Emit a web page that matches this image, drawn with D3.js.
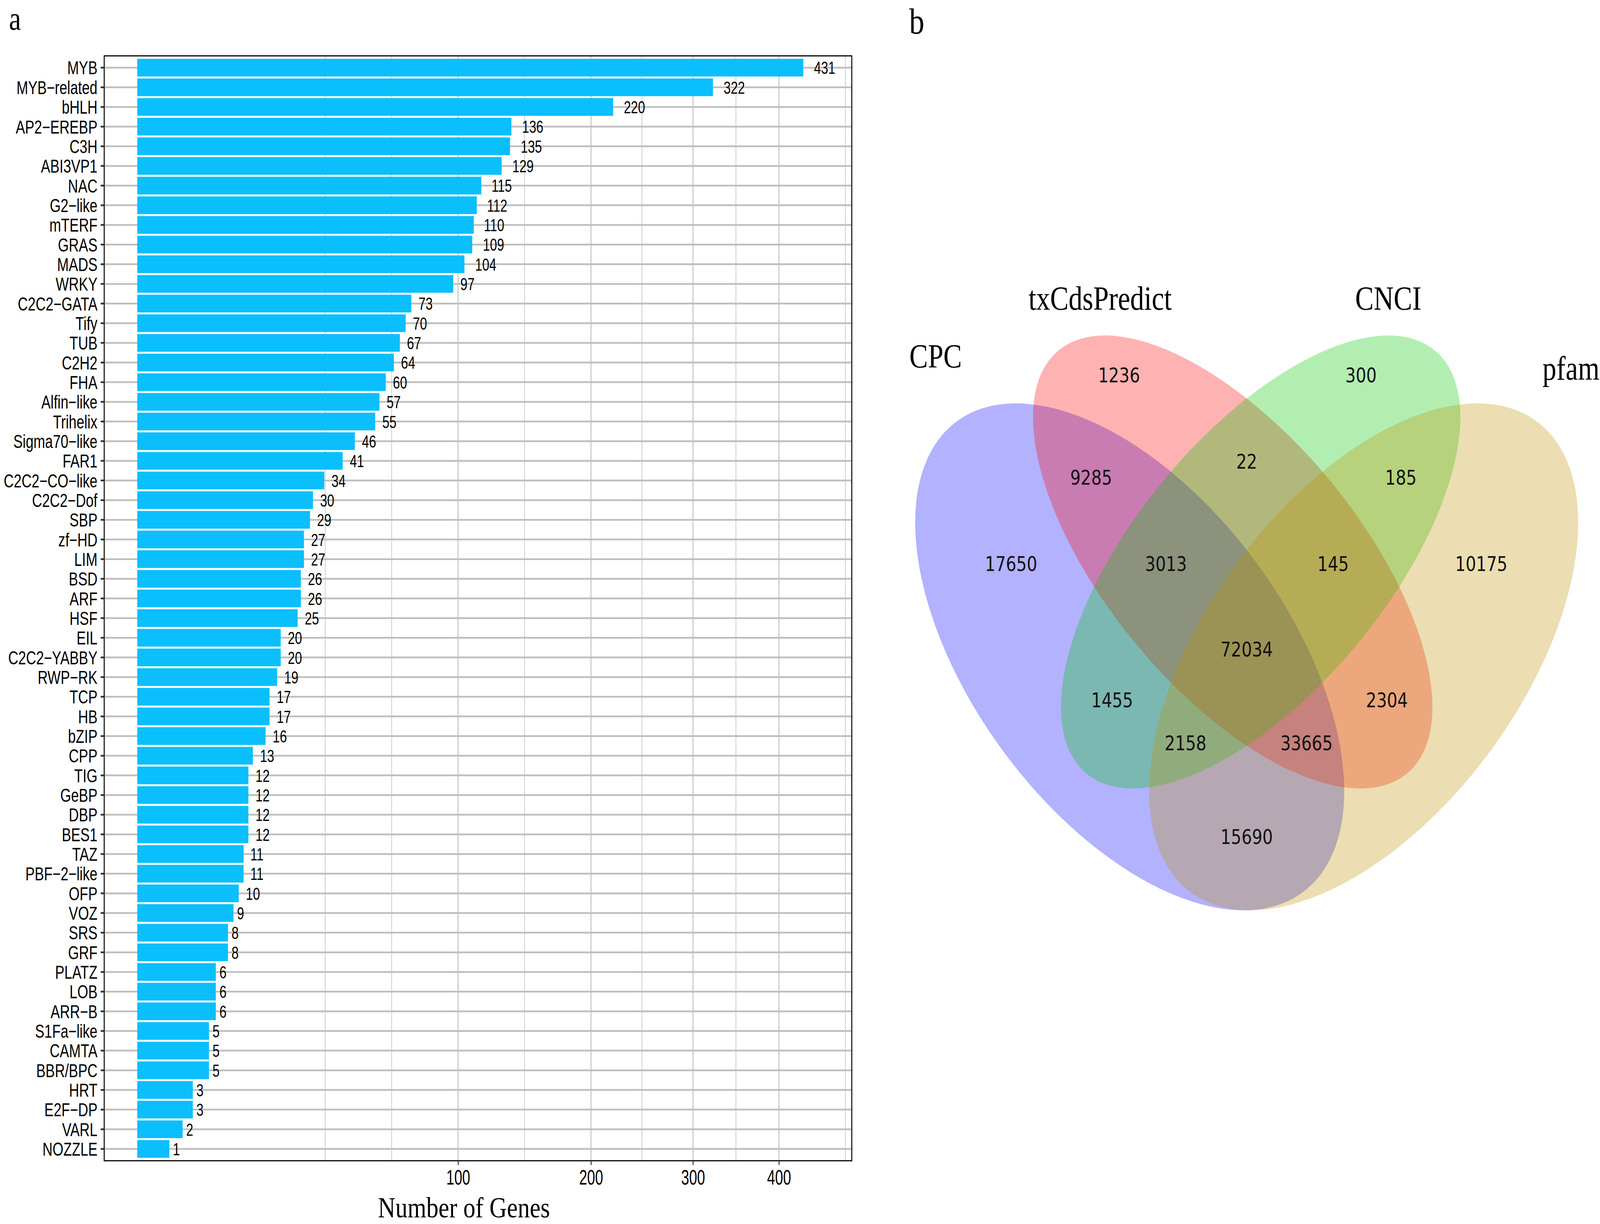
<!DOCTYPE html>
<html>
<head>
<meta charset="utf-8">
<script src="https://cdn.jsdelivr.net/npm/d3@7"></script>
<style>
  html, body { margin: 0; padding: 0; background: #fff; overflow: hidden; }
  svg { display: block; width: 100vw; height: 100vh; }
</style>
</head>
<body>
<div id="chart"></div>
<script>
// panel a: transcription factor families
var families = ["MYB", "MYB\u2212related", "bHLH", "AP2\u2212EREBP", "C3H", "ABI3VP1", "NAC", "G2\u2212like",
    "mTERF", "GRAS", "MADS", "WRKY", "C2C2\u2212GATA", "Tify", "TUB", "C2H2", "FHA", "Alfin\u2212like",
    "Trihelix", "Sigma70\u2212like", "FAR1", "C2C2\u2212CO\u2212like", "C2C2\u2212Dof", "SBP", "zf\u2212HD", "LIM",
    "BSD", "ARF", "HSF", "EIL", "C2C2\u2212YABBY", "RWP\u2212RK", "TCP", "HB", "bZIP", "CPP", "TIG", "GeBP",
    "DBP", "BES1", "TAZ", "PBF\u22122\u2212like", "OFP", "VOZ", "SRS", "GRF", "PLATZ", "LOB", "ARR\u2212B",
    "S1Fa\u2212like", "CAMTA", "BBR/BPC", "HRT", "E2F\u2212DP", "VARL", "NOZZLE"];
var geneCounts = [431, 322, 220, 136, 135, 129, 115, 112, 110, 109, 104, 97, 73, 70, 67, 64, 60, 57,
    55, 46, 41, 34, 30, 29, 27, 27, 26, 26, 25, 20, 20, 19, 17, 17, 16, 13, 12, 12,
    12, 12, 11, 11, 10, 9, 8, 8, 6, 6, 6, 5, 5, 5, 3, 3, 2, 1];
var xTicks = [100, 200, 300, 400];

// panel b: four-way venn
var vennSets = ["CPC", "txCdsPredict", "CNCI", "pfam"];
var vennRegions = ["CPC", "txCdsPredict", "CNCI", "pfam", "CPC&txCdsPredict", "txCdsPredict&CNCI",
    "CNCI&pfam", "CPC&txCdsPredict&CNCI", "txCdsPredict&CNCI&pfam", "all", "CPC&CNCI",
    "txCdsPredict&pfam", "CPC&CNCI&pfam", "CPC&txCdsPredict&pfam", "CPC&pfam"];
var vennCounts = [17650, 1236, 300, 10175, 9285, 22, 185, 3013, 145, 72034, 1455, 2304, 2158, 33665, 15690];

var W = 4959, H = 3134;
var svg = d3.select("#chart").append("svg")
    .attr("viewBox", "0 0 " + W + " " + H)
    .attr("preserveAspectRatio", "none");

var sans = "'Liberation Sans', Arial, Helvetica, sans-serif";
var serif = "'Liberation Serif', 'Times New Roman', serif";

// ---------- panel a ----------
var panel = {left: 323, right: 2640, top: 143, bottom: 2972};

var x = d3.scalePow().exponent(0.5)
    .domain([-1.06, 496])
    .range([panel.left, panel.right]);

var y = d3.scaleBand()
    .domain(families)
    .range([panel.top, panel.bottom])
    .paddingInner(0.1)
    .paddingOuter(0.15);

// minor breaks the ggplot way: midpoints in sqrt space
var sb = xTicks.map(Math.sqrt);
var bd = sb[1] - sb[0];
sb = [sb[0] - bd].concat(sb).concat([sb[sb.length - 1] + bd]);
var minorBreaks = [];
for (var i = 0; i < sb.length - 1; i++) {
    var m = (sb[i] + sb[i + 1]) / 2;
    minorBreaks.push(m * m);
}
minorBreaks.push(sb[0] * sb[0]);

var gA = svg.append("g");

gA.append("rect")
    .attr("x", panel.left).attr("y", panel.top)
    .attr("width", panel.right - panel.left)
    .attr("height", panel.bottom - panel.top)
    .attr("fill", "#fff");

gA.selectAll("line.minor")
    .data(minorBreaks.filter(function(d) { return x(d) > panel.left && x(d) < panel.right; }))
    .enter().append("line")
    .attr("class", "minor")
    .attr("x1", function(d) { return x(d); })
    .attr("x2", function(d) { return x(d); })
    .attr("y1", panel.top).attr("y2", panel.bottom)
    .attr("stroke", "#cfcfcf").attr("stroke-width", 2.5);

gA.selectAll("line.vmajor")
    .data(xTicks)
    .enter().append("line")
    .attr("class", "vmajor")
    .attr("x1", function(d) { return x(d); })
    .attr("x2", function(d) { return x(d); })
    .attr("y1", panel.top).attr("y2", panel.bottom)
    .attr("stroke", "#c2c2c2").attr("stroke-width", 3);

gA.selectAll("line.hmajor")
    .data(families)
    .enter().append("line")
    .attr("class", "hmajor")
    .attr("x1", panel.left).attr("x2", panel.right)
    .attr("y1", function(d) { return y(d) + y.bandwidth() / 2; })
    .attr("y2", function(d) { return y(d) + y.bandwidth() / 2; })
    .attr("stroke", "#bebebe").attr("stroke-width", 4.5);

gA.selectAll("rect.bar")
    .data(families)
    .enter().append("rect")
    .attr("class", "bar")
    .attr("x", x(0))
    .attr("y", function(d) { return y(d); })
    .attr("width", function(d, i) { return x(geneCounts[i]) - x(0); })
    .attr("height", y.bandwidth())
    .attr("fill", "#0bbffc");

// value labels, pushed out by half their own width
var vals = gA.selectAll("text.val")
    .data(families)
    .enter().append("text")
    .attr("class", "val")
    .attr("font-family", sans)
    .attr("font-size", 45)
    .attr("dy", "0.36em")
    .attr("fill", "#000")
    .text(function(d, i) { return geneCounts[i]; });

vals.each(function(d, i) {
    var w = this.getComputedTextLength() * 0.88;
    var xx = x(geneCounts[i]) + 0.5 * w;
    d3.select(this).attr("transform",
        "translate(" + xx + "," + (y(d) + y.bandwidth() / 2) + ") scale(0.88,1)");
});

// border
gA.append("rect")
    .attr("x", panel.left).attr("y", panel.top)
    .attr("width", panel.right - panel.left)
    .attr("height", panel.bottom - panel.top)
    .attr("fill", "none")
    .attr("stroke", "#000").attr("stroke-width", 3);

// axes
var yAxis = gA.append("g")
    .attr("transform", "translate(" + panel.left + ",0)")
    .call(d3.axisLeft(y).tickSize(11).tickSizeOuter(0));
yAxis.select(".domain").remove();
yAxis.selectAll(".tick line").attr("stroke", "#333").attr("stroke-width", 4.5);
yAxis.selectAll(".tick text")
    .attr("x", null).attr("dy", "0.36em")
    .attr("transform", "translate(-21,0) scale(0.9,1)")
    .attr("font-family", sans)
    .attr("font-size", 48)
    .attr("fill", "#000");

var xAxis = gA.append("g")
    .attr("transform", "translate(0," + panel.bottom + ")")
    .call(d3.axisBottom(x).tickValues(xTicks).tickSize(11).tickSizeOuter(0));
xAxis.select(".domain").remove();
xAxis.selectAll(".tick line").attr("stroke", "#333").attr("stroke-width", 3);
xAxis.selectAll(".tick text")
    .attr("y", null).attr("dy", null)
    .attr("transform", "translate(0,61) scale(0.84,1)")
    .attr("font-family", sans)
    .attr("font-size", 53)
    .attr("fill", "#000");

gA.append("text")
    .attr("x", 1438).attr("y", 3117)
    .attr("text-anchor", "middle")
    .attr("font-family", serif)
    .attr("font-size", 75)
    .text("Number of Genes");

svg.append("text")
    .attr("x", 28).attr("y", 76)
    .attr("font-family", serif).attr("font-size", 84)
    .text("a");

// ---------- panel b ----------
svg.append("text")
    .attr("x", 2818).attr("y", 86)
    .attr("font-family", serif).attr("font-size", 94)
    .text("b");

// venn layout in its own unit space
var vx = d3.scaleLinear().domain([-1, 1]).range([3864 - 1030, 3864 + 1030]);
var vy = d3.scaleLinear().domain([0, 1]).range([859, 2331]);
var ux = 1030, uy = 1472;

var vennShapes = [
    {cx: -0.352, cy: 0.559, hx: 0.6456, hy: 0.4409, r: 0.53, fill: "#0000ff"},
    {cx: -0.042, cy: 0.394, hx: 0.6010, hy: 0.3940, r: 0.64, fill: "#ff0000"},
    {cx: 0.042, cy: 0.394, hx: 0.6010, hy: 0.3940, r: -0.64, fill: "#00c800"},
    {cx: 0.352, cy: 0.559, hx: 0.6456, hy: 0.4409, r: -0.53, fill: "#c09100"}
];

function ellipseFromExtents(hx, hy, r) {
    var A = hx * hx, B = hy * hy, C = r * hx * hy;
    var mid = (A + B) / 2;
    var d = Math.sqrt((A - B) * (A - B) / 4 + C * C);
    return {
        rx: Math.sqrt(mid + d),
        ry: Math.sqrt(mid - d),
        angle: 0.5 * Math.atan2(2 * C, A - B) * 180 / Math.PI
    };
}

var gB = svg.append("g");

gB.selectAll("ellipse")
    .data(vennShapes)
    .enter().append("ellipse")
    .each(function(d) {
        var e = ellipseFromExtents(d.hx * ux, d.hy * uy, d.r);
        d3.select(this)
            .attr("rx", e.rx).attr("ry", e.ry)
            .attr("transform", "translate(" + vx(d.cx) + "," + vy(d.cy) + ") rotate(" + e.angle + ")");
    })
    .attr("fill", function(d) { return d.fill; })
    .attr("fill-opacity", 0.3);

var regionPos = [
    [-0.709, 0.397], [-0.384, 0.069], [0.344, 0.069], [0.706, 0.397],
    [-0.468, 0.247], [0.0, 0.219], [0.464, 0.247], [-0.243, 0.397],
    [0.260, 0.397], [0.0, 0.546], [-0.405, 0.634], [0.422, 0.634],
    [-0.184, 0.709], [0.180, 0.709], [0.0, 0.872]
];

gB.selectAll("text.count")
    .data(vennCounts)
    .enter().append("text")
    .attr("class", "count")
    .attr("x", function(d, i) { return vx(regionPos[i][0]); })
    .attr("y", function(d, i) { return vy(regionPos[i][1]); })
    .attr("dy", "0.36em")
    .attr("text-anchor", "middle")
    .attr("font-family", "'DejaVu Sans', sans-serif")
    .attr("font-size", 51)
    .attr("fill", "#111")
    .text(function(d) { return d; });

var namePos = [
    {x: -1.015, y: 0.056, anchor: "start"},
    {x: -0.441, y: -0.045, anchor: "middle"},
    {x: 0.426, y: -0.045, anchor: "middle"},
    {x: 0.890, y: 0.077, anchor: "start"}
];

gB.selectAll("text.setname")
    .data(vennSets)
    .enter().append("text")
    .attr("class", "setname")
    .attr("x", function(d, i) { return vx(namePos[i].x); })
    .attr("y", function(d, i) { return vy(namePos[i].y); })
    .attr("text-anchor", function(d, i) { return namePos[i].anchor; })
    .attr("font-family", serif)
    .attr("font-size", 86)
    .attr("fill", "#000")
    .text(function(d) { return d; });
</script>
</body>
</html>
